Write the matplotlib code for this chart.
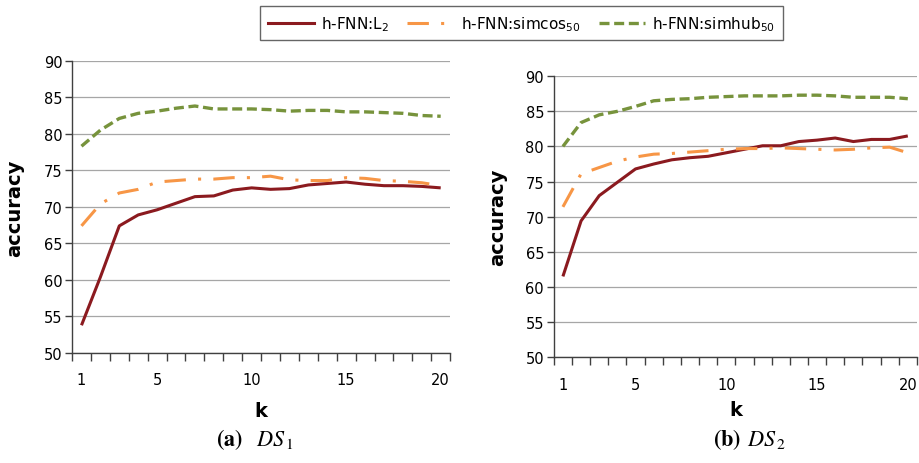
import matplotlib
matplotlib.use("Agg")
import matplotlib.pyplot as plt
from matplotlib.lines import Line2D
import numpy as np

k = list(range(1, 21))
k_labels = ["1", "5", "10", "15", "20"]
k_label_pos = [1, 5, 10, 15, 20]

ds1_l2 = [53.8, 60.4, 67.4, 68.9, 69.6, 70.5, 71.4, 71.5, 72.3, 72.6,
          72.4, 72.5, 73.0, 73.2, 73.4, 73.1, 72.9, 72.9, 72.8, 72.6]
ds1_simcos = [67.4, 70.4, 71.9, 72.4, 73.4, 73.6, 73.8, 73.8, 74.0, 74.0,
              74.2, 73.7, 73.6, 73.6, 74.0, 73.9, 73.6, 73.5, 73.3, 72.9]
ds1_simhub = [78.3, 80.5, 82.1, 82.8, 83.1, 83.5, 83.8, 83.4, 83.4, 83.4,
              83.3, 83.1, 83.2, 83.2, 83.0, 83.0, 82.9, 82.8, 82.5, 82.4]

ds2_l2 = [61.5, 69.4, 73.0, 74.9, 76.8, 77.5, 78.1, 78.4, 78.6, 79.1,
          79.6, 80.1, 80.1, 80.7, 80.9, 81.2, 80.7, 81.0, 81.0, 81.5]
ds2_simcos = [71.4, 76.1, 77.0, 77.9, 78.5, 78.9, 79.0, 79.2, 79.4, 79.6,
              79.7, 79.7, 79.8, 79.7, 79.6, 79.5, 79.6, 79.8, 79.9, 79.1]
ds2_simhub = [80.0, 83.4, 84.5, 85.0, 85.7, 86.5, 86.7, 86.8, 87.0, 87.1,
              87.2, 87.2, 87.2, 87.3, 87.3, 87.2, 87.0, 87.0, 87.0, 86.8]

series_names = ["h-FNN:L$_2$", "h-FNN:simcos$_{50}$", "h-FNN:simhub$_{50}$"]
colors = ["#8B1A1F", "#F79646", "#77933C"]
styles = ["-", (0, (7, 4, 1, 4)), (0, (3, 1.4))]
lws = [2.2, 2.2, 2.4]

fig = plt.figure(figsize=(9.2, 4.64), dpi=100)
ax1 = fig.add_axes([0.0783, 0.237, 0.411, 0.630])
ax2 = fig.add_axes([0.602, 0.228, 0.3946, 0.6056])

def style(ax, data, ylpad, xlpad):
    for vals, c, ls, lw in zip(data, colors, styles, lws):
        ax.plot(k, vals, color=c, linestyle=ls, linewidth=lw,
                solid_capstyle="butt", dash_capstyle="butt", zorder=3)
    ax.set_xlim(0.5, 20.5)
    ax.set_ylim(50, 90)
    ax.set_yticks(np.arange(50, 91, 5))
    ax.yaxis.grid(True, color="#A6A6A6", linewidth=0.9)
    ax.set_axisbelow(True)
    ax.set_xticks(k_label_pos)
    ax.set_xticklabels(k_labels, fontsize=10.5)
    ax.set_xticks(np.arange(0.5, 20.6, 1), minor=True)
    ax.tick_params(axis="x", which="major", length=0, pad=14)
    ax.tick_params(axis="x", which="minor", length=6, width=1.0, color="#404040", direction="out")
    ax.tick_params(axis="y", length=5, width=1.0, color="#404040", labelsize=10.5, pad=2)
    for s in ["top", "right"]:
        ax.spines[s].set_visible(False)
    for s in ["left", "bottom"]:
        ax.spines[s].set_color("#404040")
        ax.spines[s].set_linewidth(1.0)
    ax.set_ylabel("accuracy", fontsize=14, fontweight="bold", labelpad=ylpad)
    ax.set_xlabel("k", fontsize=14, fontweight="bold", labelpad=xlpad)

style(ax1, [ds1_l2, ds1_simcos, ds1_simhub], 14, 10)
style(ax2, [ds2_l2, ds2_simcos, ds2_simhub], 13, 6)

fig.text(0.277, 0.052, r"$\mathbf{(a)}$  $\mathit{DS}_{\,\mathrm{1}}$", ha="center", va="center",
         fontsize=16, math_fontfamily="stix")
fig.text(0.815, 0.052, r"$\mathbf{(b)}$ $\mathit{DS}_{\,\mathrm{2}}$", ha="center", va="center",
         fontsize=16, math_fontfamily="stix")

handles = [Line2D([0], [0], color=c, linestyle=ls, linewidth=lw)
           for c, ls, lw in zip(colors, styles, lws)]
leg = fig.legend(handles, series_names, loc="center", bbox_to_anchor=(0.567, 0.9475),
                 ncol=3, frameon=True, fancybox=False, fontsize=11,
                 handlelength=3.0, columnspacing=1.2, handletextpad=0.5,
                 borderpad=0.5)
leg.get_frame().set_edgecolor("#404040")
leg.get_frame().set_linewidth(1.0)

fig.savefig("out.png", dpi=100)
